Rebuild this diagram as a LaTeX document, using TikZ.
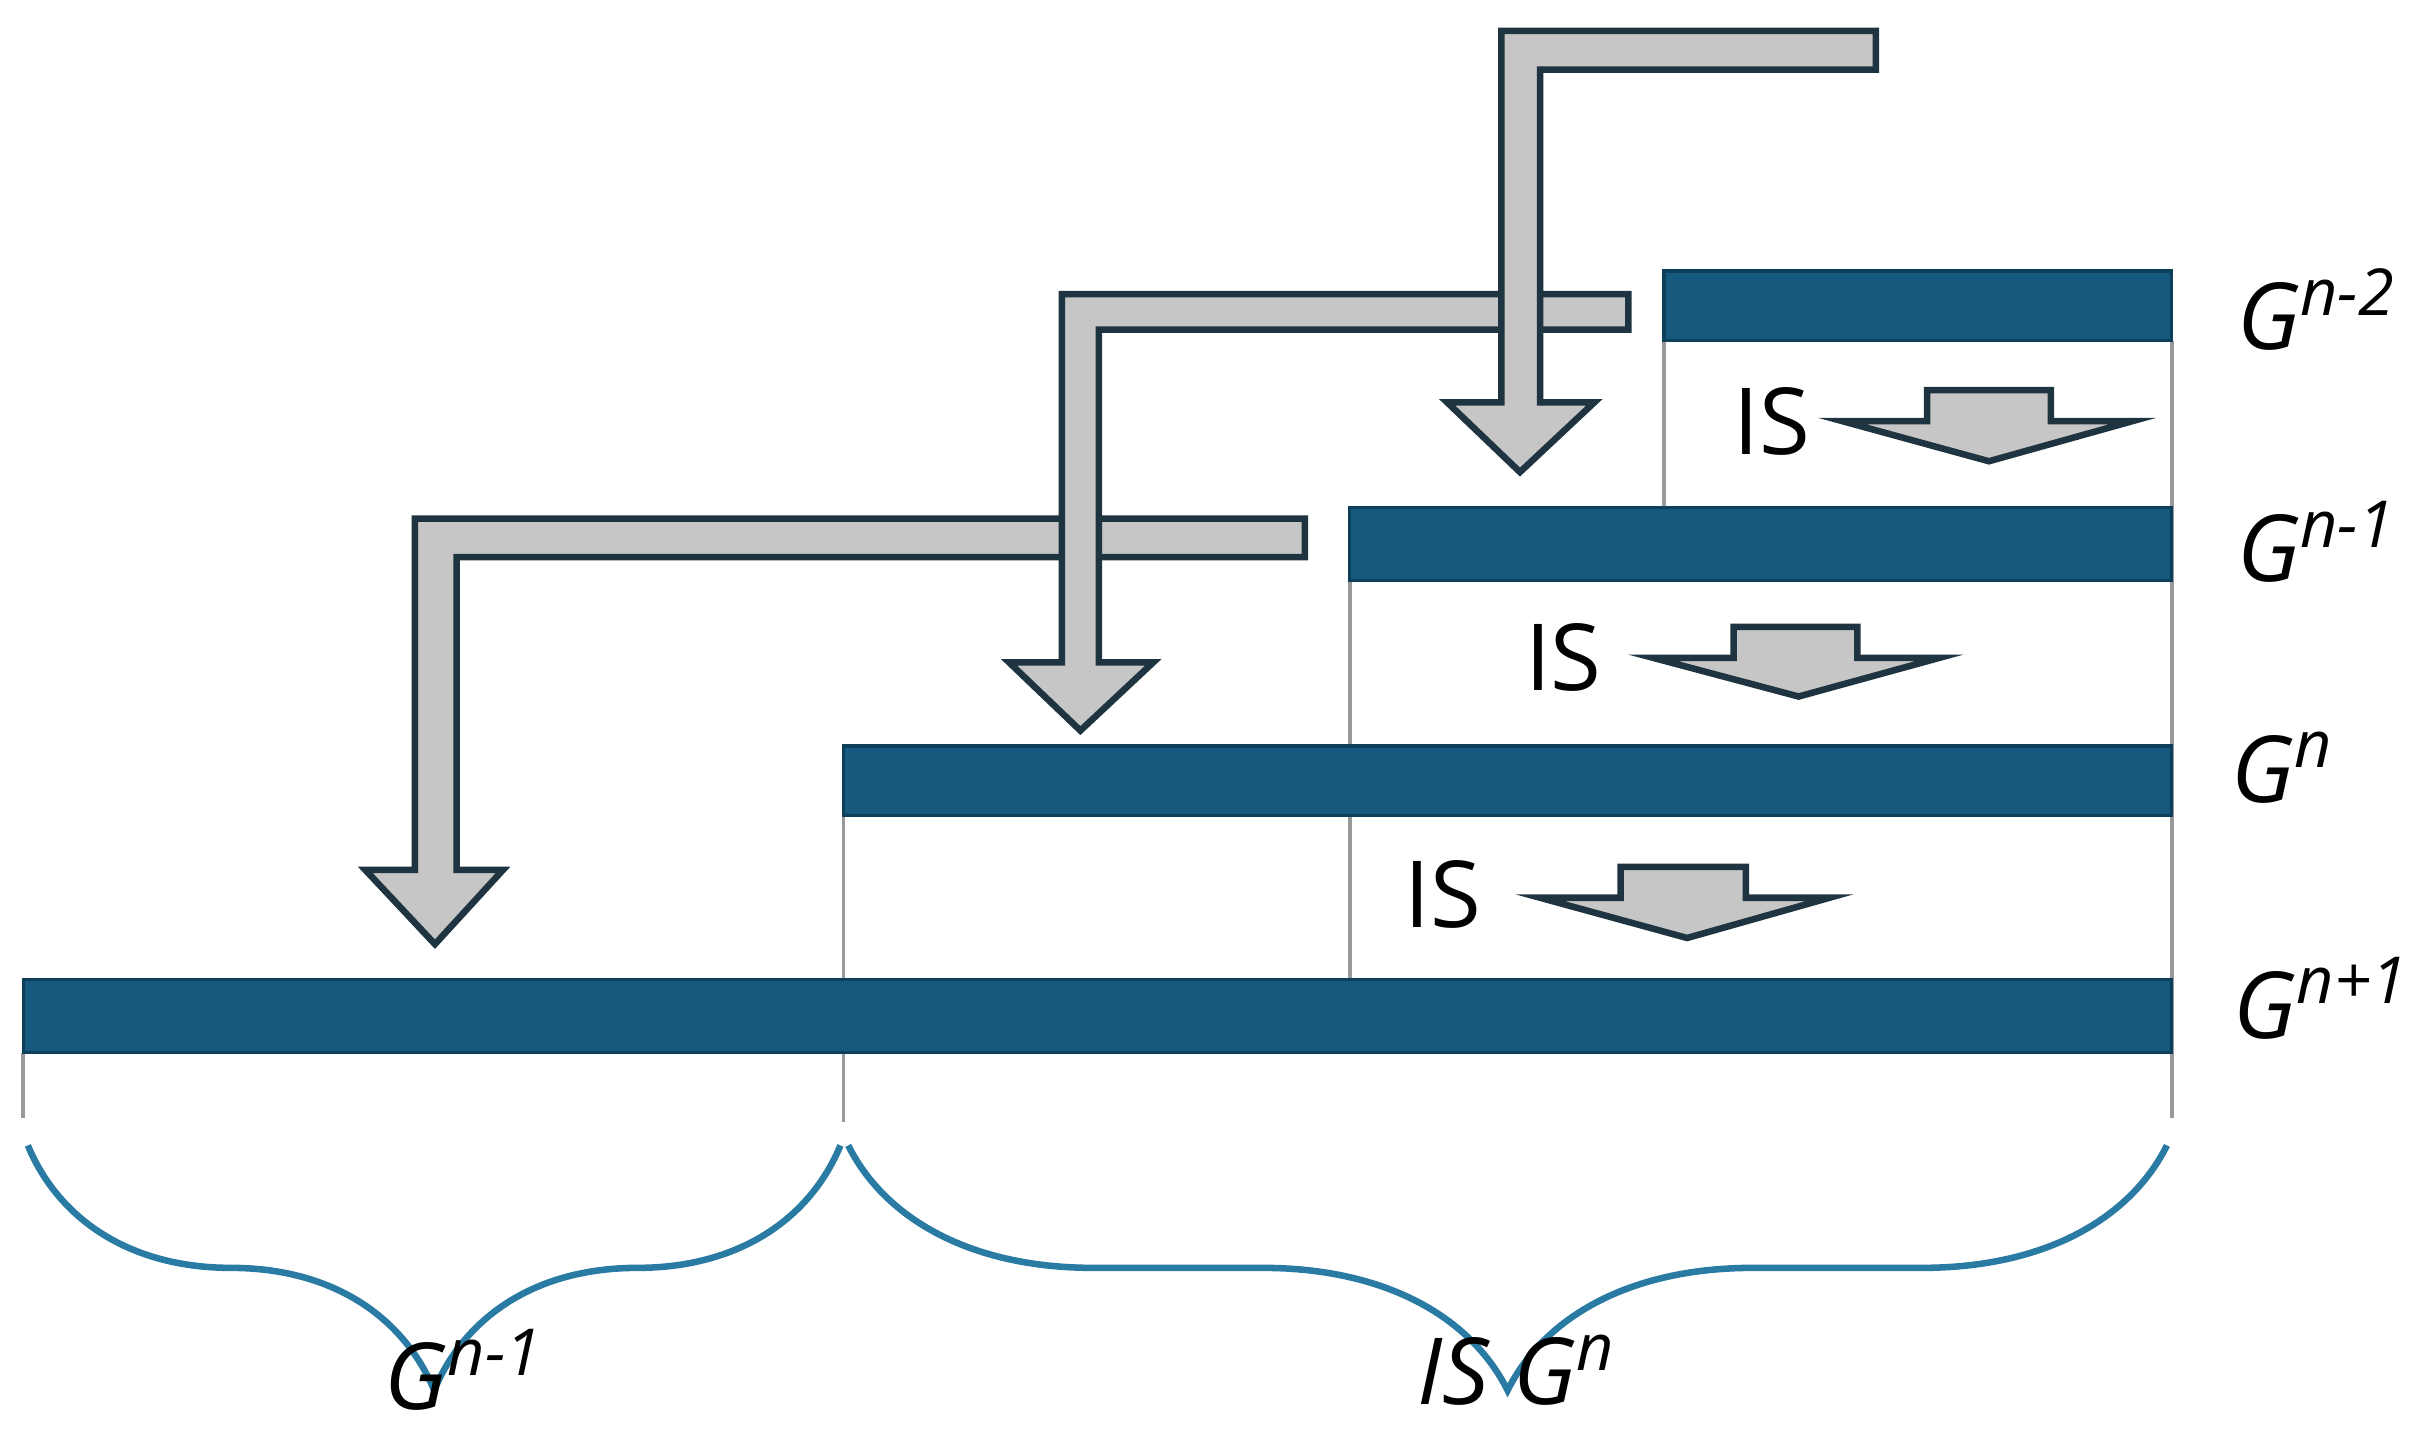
\documentclass[tikz,border=0pt]{standalone}
\usepackage{fontspec}
\setmainfont{Open Sans}
\usetikzlibrary{decorations.pathreplacing}
\definecolor{barblue}{HTML}{155A7E}
\definecolor{bardark}{HTML}{0E3F5A}
\definecolor{arrgray}{HTML}{C6C6C6}
\definecolor{arrline}{HTML}{1E3440}
\definecolor{bracec}{HTML}{2A7BA3}
\tikzset{
  bar/.style={fill=barblue,draw=bardark,line width=0.6pt},
  guide/.style={draw=gray!80,line width=0.7pt},
  garrow/.style={fill=arrgray,draw=arrline,line width=1.2pt,line join=miter},
  lbl/.style={font=\fontsize{17}{20}\selectfont\itshape,anchor=center},
  islbl/.style={font=\fontsize{17}{20}\selectfont,anchor=center},
  brc/.style={draw=bracec,line width=1.2pt,decorate,decoration={brace,amplitude=45pt,aspect=0.5}}
}
\begin{document}
\begin{tikzpicture}[x=0.01cm,y=-0.01cm]
\useasboundingbox (0,0) rectangle (1568,930);
% guides
\draw[guide] (1075,220) -- (1075,328);
\draw[guide] (1403,220) -- (1403,722);
\draw[guide] (872,375) -- (872,633);
\draw[guide] (545,527) -- (545,725);
\draw[guide] (15,680) -- (15,722);
% bars
\draw[bar] (1075,175) rectangle (1403,220);
\draw[bar] (872,328) rectangle (1403,375);
\draw[bar] (545,482) rectangle (1403,527);
\draw[bar] (15,633) rectangle (1403,680);
% big bent arrows
\draw[garrow] (843,335) -- (268,335) -- (268,562) -- (236,562) -- (281,610) -- (325,562) -- (295,562) -- (295,360) -- (843,360) -- cycle;
\draw[garrow] (1052,190) -- (686,190) -- (686,428) -- (652,428) -- (698,472) -- (745,428) -- (710,428) -- (710,213) -- (1052,213) -- cycle;
\draw[garrow] (1212,20) -- (970,20) -- (970,260) -- (935,260) -- (982,305) -- (1030,260) -- (995,260) -- (995,45) -- (1212,45) -- cycle;
% small down arrows
\draw[garrow] (1245,252) -- (1325,252) -- (1325,272) -- (1378,272) -- (1285,298) -- (1190,272) -- (1245,272) -- cycle;
\draw[garrow] (1120,405) -- (1200,405) -- (1200,425) -- (1253,425) -- (1162,450) -- (1068,425) -- (1120,425) -- cycle;
\draw[garrow] (1047,560) -- (1128,560) -- (1128,580) -- (1182,580) -- (1090,606) -- (995,580) -- (1047,580) -- cycle;
% IS labels
\node[islbl] (is1) at (1145,272) {IS};
\node[islbl] (is2) at (1010,425) {IS};
\node[islbl] (is3) at (932,578) {IS};
% right labels
\node[lbl] (g2) at (1497,200) {G\textsuperscript{n-2}};
\node[lbl] (g1) at (1497,350) {G\textsuperscript{n-1}};
\node[lbl] (g0) at (1475,496) {G\textsuperscript{n}};
\node[lbl] (gp) at (1500,645) {G\textsuperscript{n+1}};
% braces
\coordinate (b1a) at (18,740); \coordinate (b1b) at (543,740);
\coordinate (b2a) at (548,740); \coordinate (b2b) at (1400,740);
\draw[brc] (b1b) -- (b1a);
\draw[brc] (b2b) -- (b2a);
\node[lbl] (lg) at (300,885) {G\textsuperscript{n-1}};
\node[lbl] (lis) at (980,885) {IS G\textsuperscript{n}};
\end{tikzpicture}
\end{document}
